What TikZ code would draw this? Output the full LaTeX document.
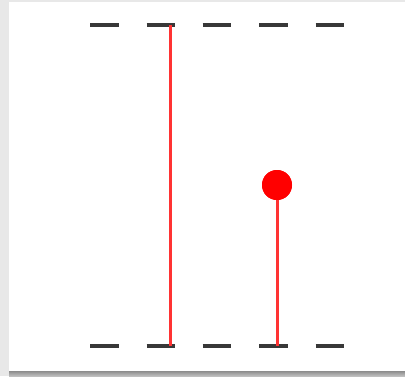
\documentclass[tikz,border=0pt]{standalone}
\begin{document}
\begin{tikzpicture}[x=1pt,y=-1pt,
  dashseg/.style={line width=3.6pt,draw=black!78},
  redline/.style={line width=3pt,draw=red!80},
  bead/.style={circle,fill=red,inner sep=0pt,minimum size=30pt}]
\useasboundingbox (0,0) rectangle (405,376);
\fill[black!9] (0,0) rectangle (405,376);
\fill[white] (9,2) rectangle (405,371);
\shade[top color=black!45,bottom color=black!25] (9,371) rectangle (405,376);
% dashed levels
\foreach \x in {90,146.5,202.5,259,315.5}{
  \draw[dashseg] (\x,25) -- ++(28.5,0);
  \draw[dashseg] (\x,346) -- ++(28.5,0);
}
\coordinate (a1) at (170,25);
\coordinate (a2) at (170,346);
\node[bead] (b) at (277,185) {};
\coordinate (b2) at (277,346);
\draw[redline] (a1) -- (a2);
\draw[redline] (b.center) -- (b2);
\node[bead] at (b) {};
\end{tikzpicture}
\end{document}
